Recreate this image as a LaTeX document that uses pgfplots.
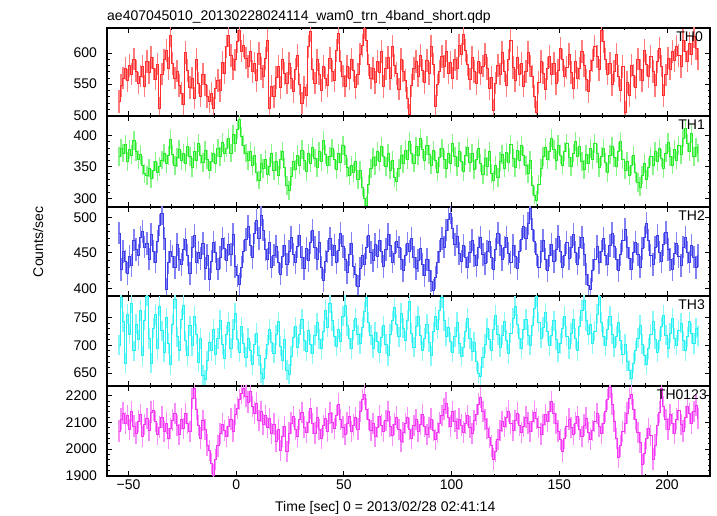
\documentclass[border=0pt]{standalone}
\usepackage{fontspec}
\setmainfont{Liberation Sans}
\usepackage{pgfplots}
\usepackage{pgfplotstable}
\pgfplotsset{compat=1.18}
\definecolor{cR}{RGB}{255,45,45}
\definecolor{cRl}{RGB}{255,125,125}
\definecolor{cG}{RGB}{40,235,40}
\definecolor{cGl}{RGB}{135,245,135}
\definecolor{cB}{RGB}{60,60,232}
\definecolor{cBl}{RGB}{130,130,242}
\definecolor{cC}{RGB}{40,240,240}
\definecolor{cCl}{RGB}{135,248,248}
\definecolor{cM}{RGB}{245,55,245}
\definecolor{cMl}{RGB}{248,140,248}
\pgfplotstableread{
t a b c d e
-54.5 522 366 478 700 2068
-53.5 548 380 426 785 2112
-52.5 560 372 452 742 2135
-51.5 575 386 438 668 2098
-50.5 556 358 421 756 2125
-49.5 580 378 445 720 2074
-48.5 566 369 432 775 2140
-47.5 590 392 468 690 2086
-46.5 571 375 455 738 2060
-45.5 552 362 447 710 2105
-44.5 563 370 472 762 2130
-43.5 578 352 480 681 2048
-42.5 547 340 458 745 2092
-41.5 586 336 463 788 2115
-40.5 569 348 441 712 2070
-39.5 593 331 476 668 2138
-38.5 575 345 452 731 2145
-37.5 558 358 437 755 2102
-36.5 582 342 466 694 2056
-35.5 512 350 489 770 2083
-34.5 566 361 505 726 2120
-33.5 589 372 470 688 2065
-32.5 604 355 398 749 2098
-31.5 575 368 436 703 2040
-30.5 628 394 452 665 2076
-29.5 583 370 445 738 2109
-28.5 560 352 429 782 2132
-27.5 571 365 462 715 2087
-26.5 548 378 440 690 2054
-25.5 535 360 433 747 2112
-24.5 518 371 455 772 2078
-23.5 601 356 469 708 2134
-22.5 572 383 447 681 2096
-21.5 545 366 421 735 2065
-20.5 560 349 458 699 2190
-19.5 528 374 474 752 2228
-18.5 590 361 436 720 2150
-17.5 552 388 450 670 2088
-16.5 531 369 442 712 2041
-15.5 566 357 463 646 2106
-14.5 549 376 428 638 2072
-13.5 530 362 447 672 2015
-12.5 522 345 412 705 1995
-11.5 535 358 438 690 1945
-10.5 511 371 465 728 1903
-9.5 544 355 451 683 1960
-8.5 556 380 427 712 2012
-7.5 540 366 443 745 2058
-6.5 585 389 470 701 2094
-5.5 568 372 456 676 2070
-4.5 610 380 439 719 2046
-3.5 628 395 462 741 2085
-2.5 596 372 448 695 2112
-1.5 574 401 476 728 2068
-0.5 589 388 431 757 2130
0.5 618 410 418 710 2154
1.5 637 426 405 688 2185
2.5 603 398 430 733 2210
3.5 612 385 452 704 2228
4.5 592 372 469 679 2198
5.5 578 360 487 712 2176
6.5 603 375 461 690 2215
7.5 570 352 443 665 2160
8.5 584 368 478 702 2135
9.5 556 341 496 722 2172
10.5 599 329 470 681 2108
11.5 575 355 503 650 2140
12.5 562 347 482 641 2092
13.5 591 362 455 676 2126
14.5 620 338 441 701 2080
15.5 512 350 464 728 2115
16.5 547 371 430 705 2058
17.5 530 344 447 686 2094
18.5 561 358 459 719 2030
19.5 578 336 437 742 2072
20.5 545 362 420 698 1995
21.5 590 375 445 673 2048
22.5 567 349 461 711 2085
23.5 552 320 433 655 1990
24.5 583 312 452 648 2060
25.5 560 335 471 680 2098
26.5 538 358 448 714 2122
27.5 574 346 436 733 2075
28.5 596 369 459 696 2048
29.5 550 353 475 720 2110
30.5 520 377 443 747 2136
31.5 545 360 428 708 2082
32.5 532 343 456 689 2064
33.5 610 372 439 726 2101
34.5 635 356 464 702 2152
35.5 574 381 482 685 2095
36.5 552 364 457 718 2060
37.5 589 349 441 740 2118
38.5 566 375 465 711 2072
39.5 540 358 429 694 2040
40.5 579 392 411 725 2089
41.5 560 370 438 763 2115
42.5 548 353 452 732 2068
43.5 592 366 470 775 2135
44.5 571 380 447 744 2100
45.5 556 362 461 716 2078
46.5 604 346 436 698 2126
47.5 632 371 453 729 2168
48.5 587 357 478 706 2110
49.5 563 384 459 752 2082
50.5 547 368 440 771 2054
51.5 578 349 422 735 2097
52.5 559 336 448 712 2121
53.5 590 352 463 694 2065
54.5 572 341 431 727 2090
55.5 545 358 419 748 2118
56.5 566 330 402 719 2075
57.5 598 345 428 703 2140
58.5 612 318 446 732 2185
59.5 640 300 433 760 2206
60.5 620 289 457 786 2150
61.5 581 322 474 741 2112
62.5 560 347 450 718 2070
63.5 575 365 439 695 2096
64.5 553 352 462 723 2048
65.5 587 374 445 706 2082
66.5 569 359 468 687 2124
67.5 602 383 452 714 2090
68.5 546 366 431 735 2065
69.5 575 350 455 702 2108
70.5 593 372 476 681 2140
71.5 559 345 460 720 2085
72.5 611 361 437 744 2052
73.5 580 333 449 767 2094
74.5 567 327 466 738 2120
75.5 542 348 458 715 2073
76.5 590 369 441 757 2030
77.5 571 355 425 730 2062
78.5 556 377 447 708 2096
79.5 528 362 463 745 2118
80.5 501 390 452 779 2075
81.5 548 371 470 722 2040
82.5 575 356 444 696 2088
83.5 586 382 428 734 2110
84.5 563 368 439 752 2065
85.5 596 395 456 718 2092
86.5 572 378 433 690 2128
87.5 553 360 418 713 2085
88.5 588 384 440 738 2054
89.5 567 370 425 705 2080
90.5 611 353 410 681 2112
91.5 582 376 397 724 2070
92.5 514 361 415 751 2036
93.5 549 342 436 729 2062
94.5 570 365 452 763 2098
95.5 594 380 470 785 2125
96.5 578 362 458 744 2150
97.5 603 347 482 716 2172
98.5 568 371 497 732 2118
99.5 585 355 506 706 2086
100.5 560 388 485 688 2140
101.5 589 366 462 715 2105
102.5 575 350 473 741 2078
103.5 612 374 449 703 2112
104.5 598 359 438 680 2090
105.5 630 343 460 697 2064
106.5 604 368 444 724 2098
107.5 581 381 429 748 2125
108.5 558 357 451 712 2082
109.5 593 372 468 689 2058
110.5 570 346 446 705 2106
111.5 551 362 432 671 2130
112.5 586 379 457 650 2168
113.5 567 356 471 645 2192
114.5 579 338 448 678 2140
115.5 598 364 435 702 2110
116.5 575 351 452 731 2078
117.5 543 375 466 711 2045
118.5 561 340 443 690 2012
119.5 508 328 427 728 1962
120.5 552 352 455 754 1990
121.5 580 333 478 719 2035
122.5 566 359 461 697 2070
123.5 601 370 440 718 2102
124.5 571 348 458 742 2085
125.5 548 373 472 709 2118
126.5 589 357 449 685 2142
127.5 620 386 436 722 2096
128.5 577 364 461 748 2070
129.5 556 349 445 770 2108
130.5 593 376 428 738 2135
131.5 565 361 452 712 2090
132.5 584 384 469 695 2062
133.5 547 368 487 729 2084
134.5 570 352 470 746 2120
135.5 601 340 491 718 2098
136.5 579 361 512 700 2066
137.5 562 320 483 735 2105
138.5 530 305 466 766 2138
139.5 505 296 448 787 2115
140.5 553 322 430 741 2082
141.5 586 348 452 713 2056
142.5 568 366 467 732 2092
143.5 542 381 441 758 2128
144.5 575 362 425 724 2104
145.5 594 375 446 699 2140
146.5 566 396 462 717 2178
147.5 583 378 438 744 2132
148.5 551 360 455 710 2095
149.5 572 385 473 688 2068
150.5 608 369 452 703 2035
151.5 589 353 430 730 1992
152.5 563 374 447 752 2040
153.5 577 388 464 716 2085
154.5 598 365 442 694 2112
155.5 569 350 458 721 2080
156.5 544 372 476 747 2054
157.5 586 391 451 712 2098
158.5 560 367 434 690 2122
159.5 575 382 457 734 2075
160.5 602 358 471 762 2048
161.5 580 346 448 781 2090
162.5 557 370 420 744 2116
163.5 538 355 404 719 2062
164.5 572 379 398 738 2038
165.5 588 362 425 703 2070
166.5 611 387 441 725 2104
167.5 594 371 459 756 2132
168.5 573 349 436 788 2086
169.5 636 366 452 741 2058
170.5 618 380 470 716 2096
171.5 590 357 447 699 2142
172.5 566 341 433 728 2185
173.5 584 369 460 752 2230
174.5 549 383 478 720 2168
175.5 571 365 459 697 2105
176.5 598 351 441 716 2040
177.5 563 374 425 740 1968
178.5 540 390 448 709 2012
179.5 578 362 467 684 2065
180.5 505 345 483 702 2098
181.5 553 359 458 671 2135
182.5 532 336 442 655 2190
183.5 580 352 427 640 2205
184.5 564 368 451 668 2148
185.5 545 341 465 690 2110
186.5 590 325 448 713 2062
187.5 573 318 430 736 2025
188.5 556 337 456 702 1942
189.5 604 355 472 681 1985
190.5 581 330 492 666 2040
191.5 562 349 468 694 2078
192.5 594 366 446 720 2050
193.5 570 352 433 743 1962
194.5 548 374 457 711 2015
195.5 586 358 474 688 2090
196.5 608 380 451 709 2138
197.5 579 364 438 733 2226
198.5 532 347 462 754 2160
199.5 565 372 479 718 2110
200.5 592 389 455 695 2075
201.5 574 367 440 722 2128
202.5 602 353 426 748 2096
203.5 588 378 449 712 2058
204.5 611 361 463 700 2112
205.5 596 384 445 726 2145
206.5 578 370 432 739 2092
207.5 620 396 458 708 2068
208.5 603 411 471 690 2120
209.5 587 388 450 715 2158
210.5 615 375 437 742 2134
211.5 598 403 461 721 2098
212.5 626 366 444 703 2140
213.5 607 381 429 730 2162
214.5 590 372 446 717 2115
}\lc
\newcommand{\fs}{\fontsize{14bp}{16bp}\selectfont}
\pgfplotsset{
  panel/.style={
    scale only axis, width=603bp, anchor=north west,
    xmin=-60, xmax=220,
    xtick={-50,0,50,100,150,200}, minor x tick num=4,
    xticklabels={},
    tick align=inside, xtick pos=both, ytick pos=both,
    major tick length=5bp, minor tick length=2.5bp,
    axis line style={line width=1.1bp},
    major tick style={black, line width=0.8bp},
    minor tick style={black, line width=0.6bp},
    tick label style={font=\fs},
    /pgf/number format/assume math mode=true,
    /pgf/number format/1000 sep={},
    yticklabel style={xshift=-6.6bp},
    clip=true,
  },
  errs/.style n args={2}{draw=none, no marks, forget plot,
    error bars/.cd, y dir=both, y fixed=#2, error mark=none,
    error bar style={draw=#1, line width=1.4bp}},
  stepl/.style={const plot mark mid, no marks, draw=#1, line width=0.7bp},
}
\begin{document}
\begin{tikzpicture}
\path[use as bounding box] (0,0) rectangle (717bp,516bp);
% TH0
\begin{axis}[panel, at={(107bp,488bp)}, height=88bp,
  ymin=499, ymax=640, ytick={500,550,600}, minor y tick num=4]
\addplot[errs={cRl}{18}] table[x=t,y=a]{\lc};
\addplot[stepl=cR] table[x=t,y=a]{\lc};
\node[anchor=north east, inner sep=0pt, font=\fs] at ([xshift=-7bp,yshift=-4bp]rel axis cs:1,1) {TH0};
\end{axis}
% TH1
\begin{axis}[panel, at={(107bp,400bp)}, height=91bp,
  ymin=286, ymax=431, ytick={300,350,400}, minor y tick num=4]
\addplot[errs={cGl}{15}] table[x=t,y=b]{\lc};
\addplot[stepl=cG] table[x=t,y=b]{\lc};
\node[anchor=north east, inner sep=0pt, font=\fs] at ([xshift=-5bp,yshift=-4bp]rel axis cs:1,1) {TH1};
\end{axis}
% TH2
\begin{axis}[panel, at={(107bp,309bp)}, height=89bp,
  ymin=389, ymax=514.5, ytick={400,450,500}, minor y tick num=4]
\addplot[errs={cBl}{16}] table[x=t,y=c]{\lc};
\addplot[stepl=cB] table[x=t,y=c]{\lc};
\node[anchor=north east, inner sep=0pt, font=\fs] at ([xshift=-5bp,yshift=-4bp]rel axis cs:1,1) {TH2};
\end{axis}
% TH3
\begin{axis}[panel, at={(107bp,220bp)}, height=90bp,
  ymin=627, ymax=788, ytick={650,700,750}, minor y tick num=4]
\addplot[errs={cCl}{18}] table[x=t,y=d]{\lc};
\addplot[stepl=cC] table[x=t,y=d]{\lc};
\node[anchor=north east, inner sep=0pt, font=\fs] at ([xshift=-5bp,yshift=-4bp]rel axis cs:1,1) {TH3};
\end{axis}
% TH0123
\begin{axis}[panel, at={(107bp,130bp)}, height=90bp,
  ymin=1899, ymax=2236, ytick={1900,2000,2100,2200}, minor y tick num=4,
  xticklabels={−50,0,50,100,150,200}]
\addplot[errs={cMl}{40}] table[x=t,y=e]{\lc};
\addplot[stepl=cM] table[x=t,y=e]{\lc};
\node[anchor=north east, inner sep=0pt, font=\fs] at ([xshift=-3bp,yshift=-4bp]rel axis cs:1,1) {TH0123};
\end{axis}
\node[anchor=base west, inner sep=0pt, font=\fs] at (107bp,495.5bp) {ae407045010\_20130228024114\_wam0\_trn\_4band\_short.qdp};
\node[anchor=base, rotate=90, inner sep=0pt, font=\fs] at (43bp,274bp) {Counts/sec};
\node[anchor=base west, inner sep=0pt, font=\fs] at (275bp,4.3bp) {Time [sec] 0 = 2013/02/28 02:41:14};
\end{tikzpicture}
\end{document}
